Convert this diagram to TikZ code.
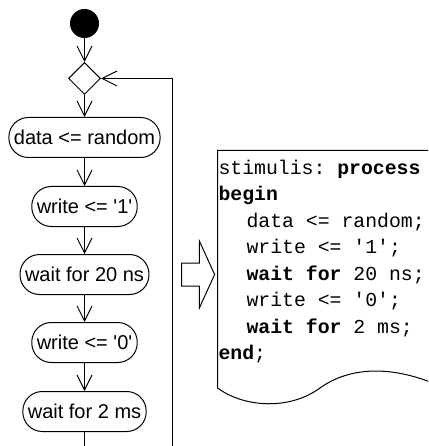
\documentclass[tikz,border=0pt]{standalone}
\usepackage{fontspec}
\setmainfont{Liberation Sans}[Ligatures=TeXOff]
\setmonofont{Liberation Mono}
\usetikzlibrary{arrows.meta,shapes.geometric,shapes.arrows}
\tikzset{
every picture/.style={
line width=1pt
},
startdot/.style={circle, fill=black, minimum size=29pt, inner sep=0pt},
decision/.style={diamond, draw, minimum width=32pt, minimum height=32pt, inner sep=0pt},
action/.style={draw, rounded corners=19.5pt, minimum height=40pt, inner xsep=5pt, font=\fontsize{20}{24}\selectfont},
flow/.style={-{Straight Barb[length=15pt, width=15pt]}}
}

\begin{document}
\begin{tikzpicture}[x=1pt, y=1pt]

  \useasboundingbox (0,0) rectangle (428,-446);
  \clip (0,0) rectangle (428,-446);

  \node (start) [startdot] at (84.5,-23.5) {};
  \node (merge) [decision] at (84.5,-78.5) {};
  \node (data) [action] at (84.5,-137.5) {data <= random};
  \node (write1) [action] at (84.5,-206.5) {write <= '1'};
  \node (wait20) [action] at (84.5,-274.5) {wait for 20 ns};
  \node (write0) [action] at (84.5,-342.5) {write <= '0'};
  \node (wait2) [action] at (84.5,-411.5) {wait for 2 ms};
  \coordinate (back) at (172.5,-470);

  \draw [flow] (start) -- (merge);
  \draw [flow] (merge) -- (data);
  \draw [flow] (data) -- (write1);
  \draw [flow] (write1) -- (wait20);
  \draw [flow] (wait20) -- (write0);
  \draw [flow] (write0) -- (wait2);
  \draw [flow] (wait2) -- (wait2 |- back) -- (back) |- (merge);

  \node (conv) [draw, single arrow, single arrow head extend=22pt, single arrow tip angle=131, single arrow head indent=0pt, minimum height=33pt, inner xsep=0pt, inner ysep=11pt] at (195.5,-274.5) {};

  \draw (440,-386) .. controls (385,-362) and (345,-370) .. (320,-388) .. controls (290,-410) and (245,-408) .. (217.5,-388) -- (217.5,-150.5) -- (440,-150.5);
  \node (code) [anchor=base west, align=left, inner sep=0pt, font=\ttfamily\fontsize{19.8}{26.5}\selectfont] at (218,-359.5) {stimulis: \textbf{process}\\
    \textbf{begin}\\
    \hspace*{28pt}data <= random;\\
    \hspace*{28pt}write <= '1';\\
    \hspace*{28pt}\textbf{wait for} 20 ns;\\
    \hspace*{28pt}write <= '0';\\
    \hspace*{28pt}\textbf{wait for} 2 ms;\\
    \textbf{end};};

\end{tikzpicture}
\end{document}
